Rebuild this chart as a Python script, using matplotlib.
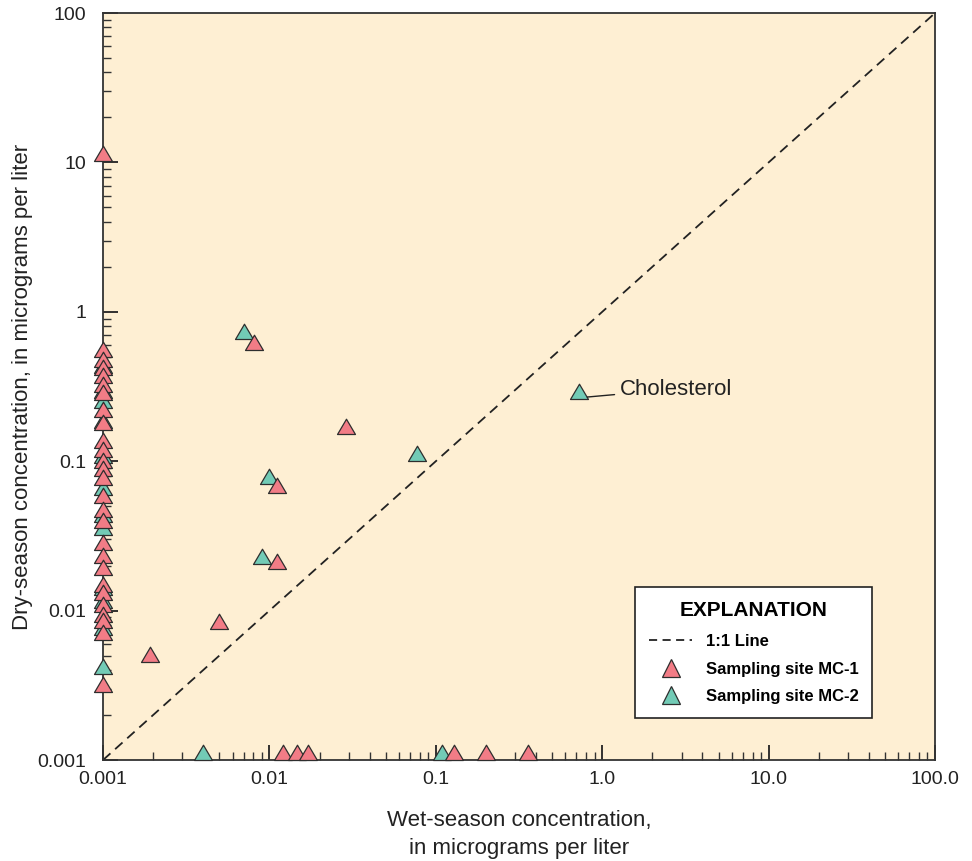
import numpy as np
import matplotlib.pyplot as plt
from matplotlib.path import Path
from matplotlib.lines import Line2D
from matplotlib.ticker import LogLocator, FixedFormatter, FixedLocator

# Data (micrograms per liter)
# Sampling site MC-1
mc1_wet = [0.001] * 27 + [0.00805, 0.0289, 0.01106, 0.01106, 0.00498, 0.00192,
                          0.01212, 0.01457, 0.01713, 0.1286, 0.1995, 0.3564]
mc1_dry = [10.2, 0.497, 0.427, 0.378, 0.334, 0.290, 0.257, 0.198, 0.162,
           0.1225, 0.1067, 0.090, 0.0796, 0.0693, 0.0525, 0.0423, 0.0357,
           0.0254, 0.0208, 0.0173, 0.0133, 0.0118, 0.0098, 0.0084, 0.0077,
           0.0064, 0.00285,
           0.557, 0.153, 0.0615, 0.0189, 0.00753, 0.00453,
           0.001, 0.001, 0.001, 0.001, 0.001, 0.001]

# Sampling site MC-2
mc2_wet = [0.001] * 12 + [0.00703, 0.0768, 0.00999, 0.00903, 0.726,
                          0.00401, 0.1089]
mc2_dry = [0.389, 0.265, 0.227, 0.167, 0.0973, 0.0594, 0.0392, 0.0321,
           0.0127, 0.0104, 0.00687, 0.00377,
           0.657, 0.101, 0.070, 0.0206, 0.261,
           0.001, 0.001]

cholesterol_xy = (0.726, 0.261)

x_ticks = [0.001, 0.01, 0.1, 1.0, 10.0, 100.0]
x_tick_labels = ['0.001', '0.01', '0.1', '1.0', '10.0', '100.0']
y_ticks = [0.001, 0.01, 0.1, 1, 10, 100]
y_tick_labels = ['0.001', '0.01', '0.1', '1', '10', '100']

# Colours
bg_color = '#FEEFD3'
pink = '#F27C86'
teal = '#72CBB6'
edge = '#2E2E2E'
ink = '#222222'

plt.rcParams['font.family'] = ['Liberation Sans', 'DejaVu Sans']

# Triangle marker with its base on the data point
tri = Path([(-1, 0), (1, 0), (0, 1.7), (-1, 0)],
           [Path.MOVETO, Path.LINETO, Path.LINETO, Path.CLOSEPOLY])

fig = plt.figure(figsize=(9.72, 8.61), dpi=100)
ax = fig.add_axes([0.106, 0.1173, 0.856, 0.8676])
ax.set_facecolor(bg_color)
ax.set_xscale('log')
ax.set_yscale('log')
ax.set_xlim(0.001, 100)
ax.set_ylim(0.001, 100)

# 1:1 line
ax.plot([0.001, 100], [0.001, 100], ls=(0, (5.5, 3.5)), color=ink,
        lw=1.3, zorder=2)

ax.plot(mc2_wet, mc2_dry, ls='none', marker=tri, markersize=22,
        markerfacecolor=teal, markeredgecolor=edge, markeredgewidth=0.9,
        clip_on=False, zorder=3)
ax.plot(mc1_wet, mc1_dry, ls='none', marker=tri, markersize=22,
        markerfacecolor=pink, markeredgecolor=edge, markeredgewidth=0.9,
        clip_on=False, zorder=4)

# Cholesterol label
ax.annotate('Cholesterol', xy=(cholesterol_xy[0] * 1.12, cholesterol_xy[1] * 1.03),
            xytext=(1.28, 0.304), fontsize=16, color=ink,
            va='center', ha='left',
            arrowprops=dict(arrowstyle='-', color=ink, lw=1.0,
                            shrinkA=2, shrinkB=0))

# Axes styling
for sp in ax.spines.values():
    sp.set_linewidth(1.3)
    sp.set_color('#333333')

ax.xaxis.set_major_locator(FixedLocator(x_ticks))
ax.xaxis.set_major_formatter(FixedFormatter(x_tick_labels))
ax.yaxis.set_major_locator(FixedLocator(y_ticks))
ax.yaxis.set_major_formatter(FixedFormatter(y_tick_labels))
ax.xaxis.set_minor_locator(LogLocator(base=10, subs=np.arange(2, 10), numticks=20))
ax.yaxis.set_minor_locator(LogLocator(base=10, subs=np.arange(2, 10), numticks=20))
ax.xaxis.set_minor_formatter(plt.NullFormatter())
ax.yaxis.set_minor_formatter(plt.NullFormatter())
ax.tick_params(which='major', direction='in', length=11, width=1.3,
               labelsize=14, color=ink, labelcolor=ink)
ax.tick_params(axis='y', which='major', pad=12)
ax.tick_params(axis='x', which='major', pad=8)
ax.tick_params(which='minor', direction='in', length=6, width=1.0,
               color='#333333')

ax.set_xlabel('Wet-season concentration,\nin micrograms per liter',
              fontsize=16, color=ink, labelpad=16, linespacing=1.4)
ax.set_ylabel('Dry-season concentration, in micrograms per liter',
              fontsize=16, color=ink, labelpad=3)

# Legend
handles = [
    Line2D([], [], ls=(0, (4.5, 3)), color=ink, lw=1.3),
    Line2D([], [], ls='none', marker='^', markersize=13,
           markerfacecolor=pink, markeredgecolor=edge, markeredgewidth=0.9),
    Line2D([], [], ls='none', marker='^', markersize=13,
           markerfacecolor=teal, markeredgecolor=edge, markeredgewidth=0.9),
]
labels = ['1:1 Line', 'Sampling site MC-1', 'Sampling site MC-2']
leg = ax.legend(handles, labels, title='EXPLANATION', loc='lower left',
                bbox_to_anchor=(0.639, 0.056), frameon=True, fancybox=False,
                edgecolor=ink, facecolor='white', framealpha=1,
                prop={'weight': 'bold', 'size': 12}, handlelength=2.6,
                borderpad=0.85, labelspacing=0.75, handletextpad=0.8,
                borderaxespad=0)
leg.get_title().set_fontweight('bold')
leg.get_title().set_fontsize(15)
leg._legend_box.align = 'center'
leg._legend_box.sep = 10
leg.get_frame().set_linewidth(1.2)

fig.savefig('out.png', dpi=100, facecolor='white')
